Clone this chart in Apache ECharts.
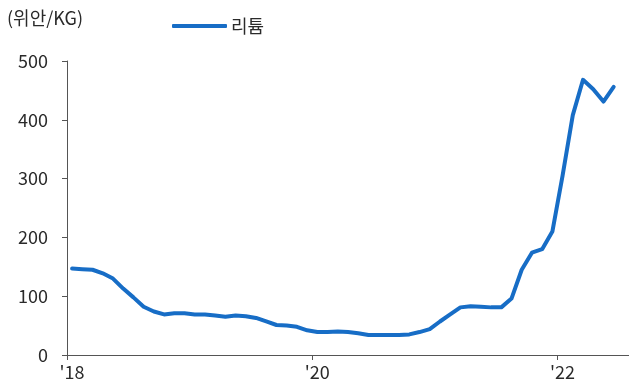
<!DOCTYPE html>
<html><head><meta charset="utf-8">
<script src="https://cdn.jsdelivr.net/npm/echarts@6/dist/echarts.min.js"></script>
<style>html,body{margin:0;padding:0;background:#fff}#c{width:629px;height:386px}</style>
</head><body><div id="c"></div>
<script>
var unitLabel = "(위안/KG)";
var seriesName = "리튬";
var categories = [];
(function(){ for (var y = 2018; y <= 2022; y++) for (var m = 1; m <= 12; m++) { if (categories.length < 55) categories.push(y + "-" + (m < 10 ? "0" + m : m)); } })();
var lithium = [147,146,145,139,130,113,98,82,74,69,71,71,69,69,67,65,67,66,63,57,51,50,48,42,39,39,40,39,37,34,34,34,34,35,39,44,57,69,81,83,82,81,81,96,145,174,180,210,305,408,468,452,431,456,"-"];
var yTicks = [0,100,200,300,400,500];
var xLabelIdx = [0,24,48];
var FONT = "'Noto Sans CJK KR','Noto Sans',sans-serif";
var chart = echarts.init(document.getElementById('c'), null, {renderer:'canvas'});
chart.setOption({
  animation:false,
  textStyle:{fontFamily:FONT},
  title:{text:unitLabel, left:7, top:9, padding:0, textStyle:{fontSize:18, fontWeight:'normal', color:'#2a2a2a', fontFamily:FONT}},
  legend:{left:172, top:17, padding:0, itemWidth:55, itemHeight:4, icon:'roundRect', itemGap:4,
    textStyle:{fontSize:18, color:'#2a2a2a', fontFamily:FONT, padding:[0,0,0,-1]}, data:[seriesName]},
  grid:{left:67, top:61, width:565, bottom:31, containLabel:false},
  xAxis:{type:'category', data:categories, boundaryGap:true,
    axisLine:{lineStyle:{color:'#555', width:1}},
    axisTick:{show:true, length:5, alignWithLabel:false, interval:function(i){return xLabelIdx.indexOf(i)>=0;}, lineStyle:{color:'#555'}},
    axisLabel:{interval:function(i){return xLabelIdx.indexOf(i)>=0;}, margin:8, fontSize:18, color:'#2a2a2a', fontFamily:FONT,
      formatter:function(v){return "'" + v.slice(2,4);}},
    splitLine:{show:false}},
  yAxis:{type:'value', min:yTicks[0], max:yTicks[yTicks.length-1], interval:100,
    axisLine:{show:true, lineStyle:{color:'#555', width:1}},
    axisTick:{show:true, length:5, lineStyle:{color:'#555'}},
    axisLabel:{margin:19, fontSize:18, color:'#2a2a2a', fontFamily:FONT},
    splitLine:{show:false}},
  series:[{name:seriesName, type:'line', data:lithium, showSymbol:false, symbol:'none',
    lineStyle:{color:'#176dc6', width:4, cap:'round', join:'round'}, itemStyle:{color:'#176dc6'}}]
});
</script></body></html>
